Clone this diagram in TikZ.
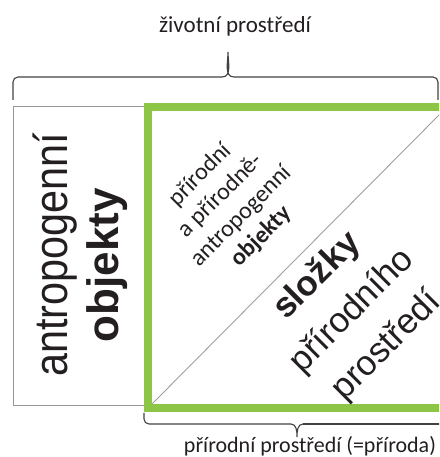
\documentclass[tikz,border=0pt]{standalone}
\usepackage{fontspec}
\setmainfont{Carlito}
\newfontfamily\arialfont{Liberation Sans}
\newfontfamily\arialnarrow[FakeStretch=0.88]{Liberation Sans}
\usepackage{tikz}

\definecolor{natgreen}{RGB}{141,198,70}
\definecolor{boxgray}{RGB}{150,150,150}
\definecolor{inkdark}{RGB}{35,31,32}

\tikzset{
    bracepath/.style={draw=inkdark!85, line width=1.1pt, rounded corners=5pt},
    smalllabel/.style={font=\fontsize{23}{28}\selectfont, text=inkdark, inner sep=0pt},
    bigword/.style={text=inkdark, inner sep=0pt, rotate=90, anchor=base}
}

\begin{document}
\begin{tikzpicture}[x=1pt, y=1pt]
    % Picture frame
    \clip (0, 0) rectangle (439, 457);
    \fill[white] (0, 0) rectangle (439, 457);

    % Box for antropogenic objects
    \draw[boxgray, line width=1pt] (148, 51) -- (13, 51) -- (13, 350) -- (148, 350);

    % Green box of natural environment and its diagonal
    \coordinate (gBL) at (152, 53);
    \coordinate (gTR) at (443, 346);
    \draw[boxgray!90, line width=0.9pt] (gBL) -- (gTR);
    \draw[natgreen, line width=8pt] (148, 49) rectangle (447, 350);

    % Top brace
    \coordinate (topL) at (13, 357);
    \coordinate (topTip) at (228, 405);
    \coordinate (topR) at (438, 357);
    \draw[bracepath] (topL) -- (13, 380) -- (222, 380);
    \draw[draw=inkdark!85, line width=1.1pt] (222, 380) to[out=0, in=-90] (topTip)
        to[out=-90, in=180] (234, 380);
    \draw[bracepath] (234, 380) -- (438, 380) -- (topR);
    \node[smalllabel, anchor=base] (lifeenv) at (235, 424) {životní prostředí};

    % Bottom brace
    \coordinate (botL) at (144, 44);
    \coordinate (botTip) at (297, 20);
    \draw[bracepath] (botL) -- (144, 33) -- (291, 33);
    \draw[draw=inkdark!85, line width=1.1pt] (291, 33) to[out=0, in=90] (botTip)
        to[out=90, in=180] (303, 33);
    \draw[bracepath] (303, 33) -- (460, 33);
    \node[smalllabel, anchor=base, font=\fontsize{22}{26}\selectfont] (natenv) at (310, 5)
        {přírodní prostředí (=příroda)};

    % Left column
    \node[bigword, font=\arialnarrow\fontsize{47}{50}\selectfont] (antrop) at (67, 202) {antropogenní};
    \node[bigword, font=\arialfont\bfseries\fontsize{44}{50}\selectfont] (antobj) at (118, 192) {objekty};

    % Upper triangle
    \node[rotate=45, align=center, text=inkdark, inner sep=0pt,
        font=\fontsize{24}{29}\selectfont] (mixobj) at (231, 251)
        {přírodní\\a přírodně-\\antropogenní\\\textbf{objekty}};

    % Lower triangle
    \node[rotate=45, align=center, text=inkdark, inner sep=0pt,
        font=\arialfont\fontsize{35}{49}\selectfont] (parts) at (352, 146)
        {\textbf{složky}\\přírodního\\prostředí};
\end{tikzpicture}
\end{document}
